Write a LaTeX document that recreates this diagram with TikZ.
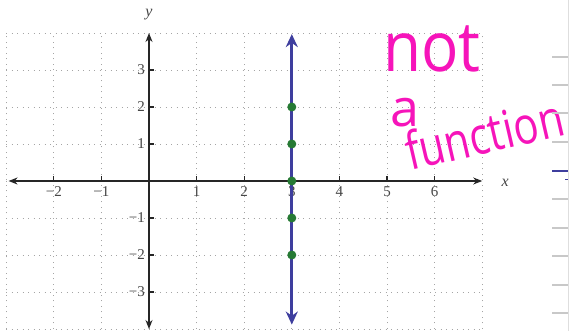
\documentclass[tikz,border=0pt]{standalone}
\usepackage{fontspec}
\setmainfont{Liberation Serif}
\newfontfamily\handfont{Open Sans}
\usetikzlibrary{arrows.meta}
\definecolor{gridgray}{RGB}{165,165,165}
\definecolor{lineblue}{RGB}{62,62,158}
\definecolor{dotgreen}{RGB}{38,122,52}
\definecolor{pinkhand}{RGB}{246,20,186}
\definecolor{labgray}{RGB}{70,70,70}
\definecolor{edgegray}{RGB}{200,200,200}
\newcommand{\lab}[1]{\ifnum#1<0 \char"2212\relax\the\numexpr-#1\relax\else#1\fi}
\tikzset{
  gridline/.style={gridgray, line width=0.9pt, dash pattern=on 1pt off 4.5pt},
  axisline/.style={black!85, line width=1.3pt, {Stealth[length=9pt,width=7pt]}-{Stealth[length=9pt,width=7pt]}},
  tickmark/.style={black!85, line width=1.1pt},
  ticklab/.style={labgray, font=\fontsize{15}{15}\selectfont, inner sep=1pt},
  axislab/.style={labgray, font=\fontsize{16}{16}\selectfont\itshape},
  vline/.style={lineblue, line width=3pt, {Stealth[length=13pt,width=12pt]}-{Stealth[length=13pt,width=12pt]}},
  gdot/.style={circle, fill=dotgreen, inner sep=0pt, minimum size=9pt},
  hand/.style={pinkhand, inner sep=0pt},
  edgeline/.style={edgegray, line width=1.2pt}
}
\begin{document}
\begin{tikzpicture}
\useasboundingbox (0,0) rectangle (569pt,331pt);
\fill[white] (0,0) rectangle (569pt,331pt);
\begin{scope}[shift={(149pt,150pt)}, x=47.6pt, y=37pt]
  % grid
  \foreach \i in {-3,...,7} \draw[gridline] (\i,-4) -- (\i,4);
  \foreach \j in {-4,...,4} \draw[gridline] (-3,\j) -- (7,\j);
  % axes
  \coordinate (xl) at (-2.95,0);
  \coordinate (xr) at (7,0);
  \coordinate (yb) at (0,-4);
  \coordinate (yt) at (0,4);
  \draw[axisline] (xl) -- (xr);
  \draw[axisline] (yb) -- (yt);
  % ticks
  \foreach \i in {-2,-1,1,2,3,4,5,6} {
    \draw[tickmark] (\i,0) -- (\i,0.14);
    \node[ticklab, anchor=north] (tx\i) at (\i,-0.12) {\lab{\i}};
  }
  \foreach \j in {-3,-2,-1,1,2,3} {
    \draw[tickmark] (0,\j) -- (0.11,\j);
    \node[ticklab, anchor=east] (ty\j) at (-0.06,\j) {\lab{\j}};
  }
  \node[axislab] (xlab) at (7.48,-0.05) {x};
  \node[axislab] (ylab) at (0,4.5) {y};
  % vertical line x=3
  \coordinate (vt) at (3,3.97);
  \coordinate (vb) at (3,-3.88);
  \draw[vline] (vb) -- (vt);
  \foreach \j in {-2,-1,0,1,2} \node[gdot] (d\j) at (3,\j) {};
\end{scope}
% handwriting
\node[hand, font=\handfont\fontsize{62}{62}\selectfont, anchor=base west, yscale=1.12] (not) at (383pt,259pt) {not};
\node[hand, font=\handfont\fontsize{52}{52}\selectfont, anchor=base west] (a) at (390pt,204pt) {a};
\node[hand, font=\handfont\fontsize{52}{52}\selectfont, anchor=base west, rotate=13, xscale=0.8] (func) at (410pt,160pt) {function};
% right edge fragment
\foreach \p in {57,85,113,142,199,228,256,285,313}
  \draw[edgeline] (552pt,331pt-\p pt) -- (569pt,331pt-\p pt);
\draw[lineblue, line width=1.3pt] (552pt,160pt) -- (569pt,160pt);
\draw[lineblue, line width=1pt] (565pt,151pt) -- (569pt,151pt);
\draw[edgegray!60, line width=0.8pt] (568pt,0) -- (568pt,331pt);
\end{tikzpicture}
\end{document}
